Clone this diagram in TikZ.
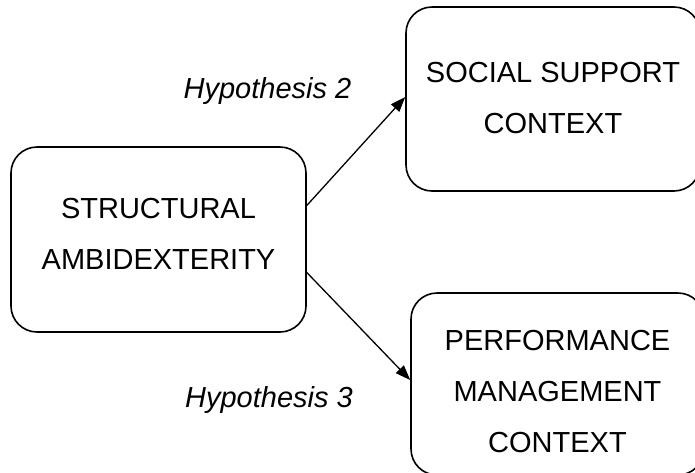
\documentclass[tikz,border=0pt]{standalone}
\usepackage{fontspec}
\setmainfont{Liberation Sans}
\usetikzlibrary{arrows.meta}
\begin{document}
\begin{tikzpicture}[x=1pt,y=-1pt,
  box/.style={draw, line width=1.6pt, rounded corners=26pt, rectangle,
    inner sep=0pt},
  boxtext/.style={align=center, inner sep=0pt,
    font=\fontsize{29}{51}\selectfont},
  link/.style={line width=1.3pt, -{Triangle[length=15pt,width=11pt]}},
  hyp/.style={anchor=base, font=\fontsize{29}{34}\selectfont\itshape}]
  \useasboundingbox (0,0) rectangle (695,472);
  \clip (0,0) rectangle (695,472);
  % the three constructs
  \node[box, minimum width=295pt, minimum height=185pt] (sa) at (158.5,239.5) {};
  \node[box, minimum width=294pt, minimum height=184pt] (ss) at (553,99) {};
  \node[box, minimum width=293pt, minimum height=182pt] (pm) at (557.5,384) {};
  \node[boxtext] (sat) at (158.5,233.5) {STRUCTURAL\\AMBIDEXTERITY};
  \node[boxtext] (sst) at (553,98.5) {SOCIAL SUPPORT\\CONTEXT};
  \node[boxtext] (pmt) at (557.5,392) {PERFORMANCE\\MANAGEMENT\\CONTEXT};
  % hypothesised links
  \draw[link] ([yshift=34pt]sa.east) -- ([yshift=2pt]ss.west);
  \draw[link] ([yshift=-33pt]sa.east) -- ([yshift=4pt]pm.west);
  \node[hyp] (h2) at (267.5,98) {Hypothesis 2};
  \node[hyp] (h3) at (269,407) {Hypothesis 3};
\end{tikzpicture}
\end{document}
